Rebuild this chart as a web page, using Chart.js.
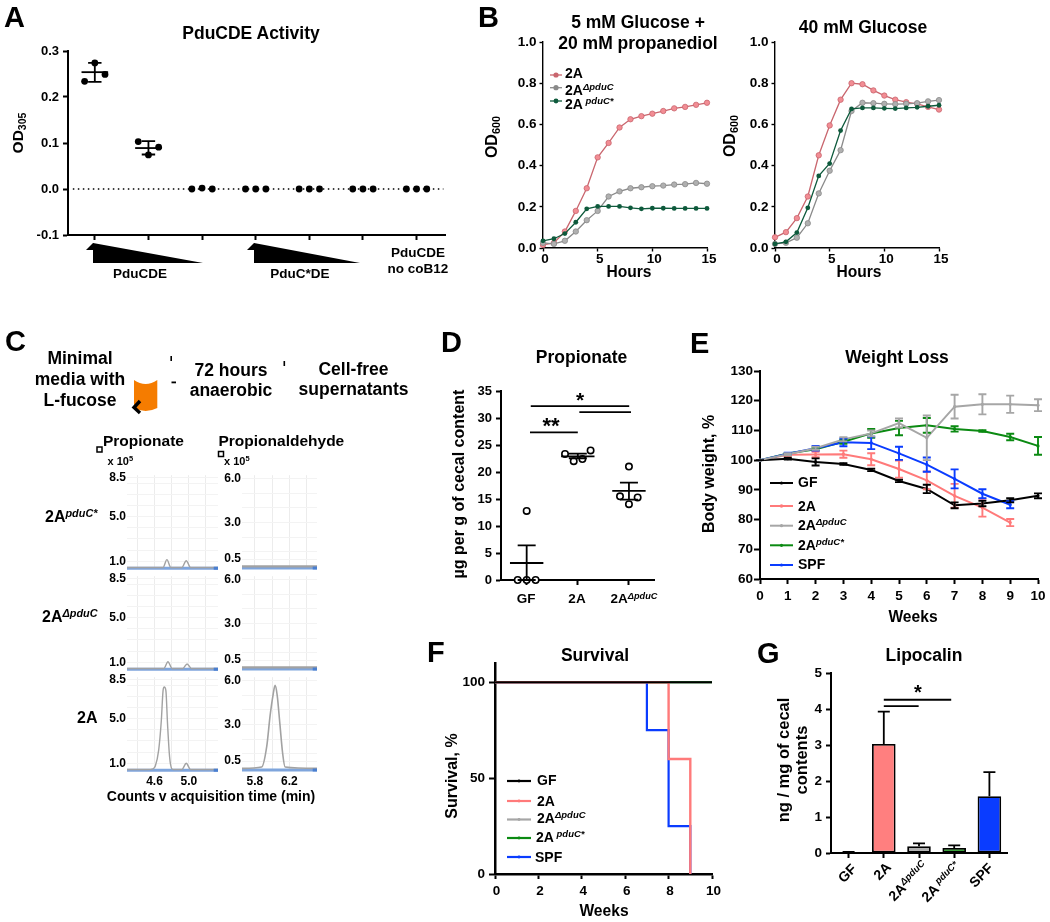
<!DOCTYPE html>
<html lang="en">
<head>
<meta charset="UTF-8">
<title>Propionate figure</title>
<script src="https://cdn.jsdelivr.net/npm/chart.js"></script>
<style>
    html, body { margin: 0; background: #fff; }
    #page { position: relative; width: 1050px; height: 922px; overflow: hidden; font-family: "Liberation Sans", Arial, sans-serif; font-weight: bold; color: #000; }
    #page canvas { position: absolute; }
    #page svg { position: absolute; left: 0; top: 0; }
    .t { position: absolute; white-space: nowrap; line-height: 1; }
    .t sup { font-size: .68em; font-style: italic; vertical-align: .5em; line-height: 0; }
    .t sub { font-size: .68em; vertical-align: -.25em; line-height: 0; }
</style>
</head>
<body>
<div id="page"></div>
<script>
    // A - PduCDE activity (x = group position incl. jitter)
    const aPointsX = [0.81, 1, 1.19, 1.81, 2, 2.19, 2.81, 3, 3.19, 3.81, 4, 4.19, 4.81, 5, 5.19, 5.81, 6, 6.19, 6.81, 7, 7.19];
    const aPointsY = [0.234, 0.274, 0.249, 0.103, 0.074, 0.091, 0, 0.002, 0, 0, 0, 0, 0, 0, 0, 0, 0, 0, 0, 0, 0];
    const aGroups = [1, 2];
    const aMeans = [0.254, 0.089];
    const aLow = [0.233, 0.075];
    const aHigh = [0.274, 0.104];
    const aTicksY = [-0.1, 0, 0.1, 0.2, 0.3];
    const aTicksX = [1, 2, 3, 4, 5, 6, 7];

    // B - growth curves
    const hours = [0, 1, 2, 3, 4, 5, 6, 7, 8, 9, 10, 11, 12, 13, 14, 15];
    const bTicksX = [0, 5, 10, 15];
    const bTicksY = [0, 0.2, 0.4, 0.6, 0.8, 1.0];
    const b1_2A = [0.015, 0.025, 0.08, 0.18, 0.29, 0.44, 0.51, 0.585, 0.625, 0.64, 0.652, 0.665, 0.678, 0.685, 0.695, 0.705];
    const b1_del = [0.025, 0.02, 0.035, 0.08, 0.135, 0.18, 0.25, 0.275, 0.29, 0.295, 0.3, 0.303, 0.308, 0.31, 0.316, 0.312];
    const b1_star = [0.035, 0.045, 0.07, 0.125, 0.19, 0.202, 0.202, 0.202, 0.195, 0.19, 0.193, 0.193, 0.192, 0.192, 0.192, 0.192];
    const b2_2A = [0.052, 0.077, 0.145, 0.25, 0.45, 0.595, 0.72, 0.8, 0.795, 0.765, 0.74, 0.72, 0.708, 0.7, 0.685, 0.672];
    const b2_del = [0.02, 0.025, 0.05, 0.12, 0.265, 0.375, 0.475, 0.665, 0.705, 0.703, 0.7, 0.698, 0.7, 0.703, 0.712, 0.718];
    const b2_star = [0.02, 0.03, 0.075, 0.195, 0.35, 0.41, 0.57, 0.675, 0.68, 0.68, 0.678, 0.677, 0.68, 0.683, 0.688, 0.693];

    // C - chromatograms
    const cTimeA = [4.4, 4.6, 4.8, 5.0, 5.2];
    const cTimeB = [5.8, 6.0, 6.2, 6.4];
    const cCountsA = [1, 2, 3, 4, 5, 6, 7, 8, 8.5];
    const cCountsB = [0.5, 1, 2, 3, 4, 5, 6];
    const cPropStarX = [4.28, 4.7, 4.745, 4.79, 4.92, 4.97, 5.02, 5.34];
    const cPropStarY = [0.45, 0.45, 1.15, 0.45, 0.45, 1.05, 0.45, 0.45];
    const cPropDelX = [4.28, 4.71, 4.757, 4.805, 4.93, 4.98, 5.03, 5.34];
    const cPropDelY = [0.45, 0.45, 1.05, 0.45, 0.45, 0.85, 0.45, 0.45];
    const cProp2AX = [4.28, 4.513, 4.583, 4.61, 4.649, 4.68, 4.7, 4.714, 4.733, 4.752, 4.776, 4.803, 4.822, 4.92, 4.97, 5.02, 5.34];
    const cProp2AY = [0.45, 0.45, 0.5, 0.75, 2.18, 4.85, 7.5, 7.82, 7.5, 4.55, 1.59, 0.5, 0.45, 0.45, 1.0, 0.45, 0.45];
    const cAldFlatX = [5.65, 6.52];
    const cAldFlatY = [0, 0];
    const cAld2AX = [5.65, 5.879, 5.937, 5.976, 6.01, 6.034, 6.058, 6.09, 6.12, 6.15, 6.52];
    const cAld2AY = [0, 0.1, 1.5, 3.6, 5.0, 5.66, 5.0, 3.0, 1.1, 0.1, 0];

    // D - propionate
    const dPointsX = [0.825, 1, 1.175, 1, 1.75, 1.92, 2.09, 2.25, 2.825, 3, 3, 3.17];
    const dPointsY = [0, 0, 0, 12.8, 23.35, 22, 22.4, 24, 15.5, 21, 14.05, 15.3];
    const dGroups = [1, 2, 3];
    const dMeans = [3.15, 22.9, 16.5];
    const dLow = [0, 22.55, 14.9];
    const dHigh = [6.4, 23.4, 18.05];
    const dTicksY = [0, 5, 10, 15, 20, 25, 30, 35];

    // E - weight loss
    const weeks = [0, 1, 2, 3, 4, 5, 6, 7, 8, 9, 10];
    const eGF = [100, 100.5, 99.4, 98.7, 96.7, 93, 90.3, 84.8, 85.4, 86.5, 88];
    const eGFerr = [0, 0.3, 1.2, 0.3, 0.4, 0.4, 1.4, 1.0, 0.9, 0.7, 0.8];
    const e2A = [100, 101.8, 101.9, 102, 100.3, 97, 93.2, 88, 84, 79];
    const e2Aerr = [0, 0.3, 0.9, 1.2, 2, 2.9, 3, 4, 3, 1.2];
    const eDel = [100, 102, 104, 107, 109, 112.5, 107.5, 118, 118.8, 118.8, 118.5];
    const eDelErr = [0, 0.3, 0.5, 0.7, 1, 1.5, 7.5, 4, 3.4, 2.9, 2];
    const eStar = [100, 102.2, 103.7, 106.2, 109, 110.8, 111.7, 110.5, 109.8, 107.8, 104.8];
    const eStarErr = [0, 0.2, 0.5, 0.7, 1.5, 2.4, 2.5, 0.9, 0.3, 1.1, 3];
    const eSPF = [100, 102.2, 104, 106, 105.8, 102.3, 98.5, 93.7, 88.7, 85];
    const eSPFerr = [0, 0.3, 0.8, 1.3, 2.1, 2.2, 2.4, 3.2, 1.5, 1.2];
    const eTicksY = [60, 70, 80, 90, 100, 110, 120, 130];

    // F - survival
    const fGFx = [0, 10], fGFy = [100, 100];
    const f2Ax = [0, 8, 9], f2Ay = [100, 60, 0];
    const fDelX = [0, 10], fDelY = [100, 100];
    const fStarX = [0, 10], fStarY = [100, 100];
    const fSPFx = [0, 7, 8, 9], fSPFy = [100, 75, 25, 0];
    const fTicksX = [0, 2, 4, 6, 8, 10];
    const fTicksY = [0, 50, 100];

    // G - lipocalin
    const gGroups = ['GF', '2A', '2A\u0394pduC', '2A pduC*', 'SPF'];
    const gValues = [0.03, 3.03, 0.19, 0.14, 1.58];
    const gHigh = [0.03, 3.93, 0.27, 0.21, 2.25];
    const gTicksY = [0, 1, 2, 3, 4, 5];

    const FONT = '"Liberation Sans", Arial, sans-serif';
    const BLACK = '#000', RED = '#ff7a7a', GREY = '#a6a6a6', GREEN = '#0b8a12', BLUE = '#0a3cff';
    const page = document.getElementById('page');

    function zip(xs, ys) { return ys.map((y, i) => ({ x: xs[i], y })); }

    // extra marks drawn through the chart's own scales: error bars, mean lines, significance lines
    function marksPlugin(items) {
        return {
            id: 'marks',
            afterDatasetsDraw(chart) {
                const c = chart.ctx, sx = chart.scales.x, sy = chart.scales.y;
                c.save();
                for (const m of items) {
                    c.strokeStyle = m.c || BLACK;
                    c.lineWidth = m.w || 1.8;
                    c.beginPath();
                    if (m.lo !== undefined) {
                        const px = sx.getPixelForValue(m.x), lo = sy.getPixelForValue(m.lo), hi = sy.getPixelForValue(m.hi);
                        c.moveTo(px, lo); c.lineTo(px, hi);
                        c.moveTo(px - m.cap, hi); c.lineTo(px + m.cap, hi);
                        if (!m.top) { c.moveTo(px - m.cap, lo); c.lineTo(px + m.cap, lo); }
                    } else if (m.half !== undefined) {
                        const px = sx.getPixelForValue(m.x), py = sy.getPixelForValue(m.y);
                        c.moveTo(px - m.half, py); c.lineTo(px + m.half, py);
                    } else {
                        c.moveTo(sx.getPixelForValue(m.x1), sy.getPixelForValue(m.y1));
                        c.lineTo(sx.getPixelForValue(m.x2), sy.getPixelForValue(m.y2));
                    }
                    c.stroke();
                }
                c.restore();
            }
        };
    }

    function axis(o) {
        return {
            type: 'linear', min: o.min, max: o.max, bounds: 'data',
            afterBuildTicks: s => { s.ticks = o.ticks.map(v => ({ value: v })); },
            ticks: {
                display: o.labels !== false, autoSkip: false, maxRotation: 0, minRotation: 0,
                padding: o.pad === undefined ? 2 : o.pad, labelOffset: o.shift || 0, color: BLACK,
                font: { family: FONT, weight: 'bold', size: o.size || 13 },
                callback: o.fmt || (v => v)
            },
            border: { display: o.bw !== 0, color: BLACK, width: o.bw === undefined ? 2 : o.bw },
            grid: Object.assign({ drawOnChartArea: false, tickLength: o.tl === undefined ? 5 : o.tl, tickWidth: o.tw || 2, tickColor: BLACK }, o.grid || {})
        };
    }

    // l,t,r,b = plot area in page pixels
    function plot(l, t, r, b, type, datasets, x, y, marks, labels, margin) {
        const m = Object.assign({ l: 62, r: 20, t: 12, b: 36 }, margin || {});
        const cv = document.createElement('canvas');
        cv.width = r - l + m.l + m.r;
        cv.height = b - t + m.t + m.b;
        cv.style.left = (l - m.l) + 'px';
        cv.style.top = (t - m.t) + 'px';
        page.appendChild(cv);
        x.afterFit = s => { s.height = m.b; };
        y.afterFit = s => { s.width = m.l; };
        return new Chart(cv, {
            type,
            data: { labels, datasets },
            options: {
                responsive: false, animation: false, events: [],
                layout: { padding: { left: 0, right: m.r, top: m.t, bottom: 0 } },
                plugins: { legend: { display: false }, tooltip: { enabled: false } },
                scales: { x, y }
            },
            plugins: [marksPlugin(marks || [])]
        });
    }

    function txt(x, y, html, o) {
        o = o || {};
        const d = document.createElement('div');
        d.className = 't';
        d.innerHTML = html;
        d.style.left = x + 'px';
        d.style.top = y + 'px';
        d.style.fontSize = (o.size || 17.5) + 'px';
        if (o.weight) d.style.fontWeight = o.weight;
        d.style.transform = (o.left ? 'translate(0,-50%)' : 'translate(-50%,-50%)') + (o.rot ? ' rotate(' + o.rot + 'deg)' : '');
        page.appendChild(d);
    }

    function line(xs, ys, color, width, r, extra) {
        return Object.assign({
            data: zip(xs, ys), borderColor: color, borderWidth: width, backgroundColor: color,
            pointRadius: r, pointBorderWidth: 0, tension: 0, clip: false
        }, extra || {});
    }

    const fixed1 = v => Number(v).toFixed(1);

    // ---------- A
    const aMarks = [];
    aGroups.forEach((g, i) => {
        aMarks.push({ x: g, lo: aLow[i], hi: aHigh[i], cap: 6.7 });
        aMarks.push({ x: g, y: aMeans[i], half: 13.3 });
    });
    plot(68, 51, 445, 235, 'line', [
        line(aPointsX, aPointsY, BLACK, 0, 3.4, { showLine: false }),
        { data: [{ x: 0.59, y: 0 }, { x: 7.5, y: 0 }], borderColor: BLACK, borderWidth: 1.5, borderDash: [1.5, 3.5], pointRadius: 0 }
    ],
        axis({ min: 0.5, max: 7.53, ticks: aTicksX, labels: false, tl: 5 }),
        axis({ min: -0.1, max: 0.3, ticks: aTicksY, fmt: fixed1, tl: 5, pad: 4 }),
        aMarks);

    // ---------- B
    const PINK_L = '#c9666e', PINK_M = '#f28d94', GR_L = '#8a8a8a', GR_M = '#b0b0b0', DG = '#0e5a3c';
    function growth(l, r, pink, grey, green) {
        plot(l, 42, r, 248, 'line', [
            line(hours, green, DG, 1.3, 2.4),
            line(hours, grey, GR_L, 1.3, 2.7, { pointBackgroundColor: GR_M, pointBorderColor: GR_L, pointBorderWidth: 0.8 }),
            line(hours, pink, PINK_L, 1.3, 2.7, { pointBackgroundColor: PINK_M, pointBorderColor: PINK_L, pointBorderWidth: 0.8 })
        ],
            axis({ min: 0, max: 15, ticks: bTicksX, bw: 1.4, tw: 1.4, tl: 3.5, size: 13.5, pad: 0, shift: 2 }),
            axis({ min: 0, max: 1, ticks: bTicksY, fmt: fixed1, bw: 1.4, tw: 1.4, tl: 3.5, size: 13.5, pad: 3 }));
    }
    growth(543, 707, b1_2A, b1_del, b1_star);
    growth(775, 939, b2_2A, b2_del, b2_star);

    // ---------- C
    const G_V = '#ececec', G_H = '#f3f3f3', TRACE = '#a2a2a2', BASE = '#7fa5dc', BASE_D = '#4a7fd0';
    function chrom(l, t, r, b, times, counts, minX, maxX, minY, maxY, named, xs, ys, showX, base, traceW) {
        plot(l, t, r, b, 'line', [
            line([maxX - 0.05, maxX], [base, base], BASE_D, 3, 0),
            line(xs, ys, TRACE, traceW, 0, { cubicInterpolationMode: 'monotone' }),
            line([minX, maxX], [base, base], BASE, 3, 0)
        ],
            axis({ min: minX, max: maxX, ticks: times, bw: 0, tl: 0, size: 12, pad: 4, fmt: v => (showX.includes(+Number(v).toFixed(1)) ? Number(v).toFixed(1) : ''), grid: { drawOnChartArea: true, color: G_V, lineWidth: 1, drawTicks: false } }),
            axis({ min: minY, max: maxY, ticks: counts, bw: 0, tl: 0, size: 12, pad: 1, fmt: v => (named.includes(v) ? fixed1(v) : ''), grid: { drawOnChartArea: true, color: G_H, lineWidth: 1, drawTicks: false } }),
            [], undefined, { l: 30, r: 4, t: 8, b: 20 });
    }
    const rowsT = [475, 576, 677], rowsB = [568, 669, 770];
    const namedA = [1, 5, 8.5], namedB = [0.5, 3, 6];
    chrom(127, rowsT[0], 218, rowsB[0], cTimeA, cCountsA, 4.28, 5.34, 0.4, 8.7, namedA, cPropStarX, cPropStarY, [], 0.38, 1.4);
    chrom(127, rowsT[1], 218, rowsB[1], cTimeA, cCountsA, 4.28, 5.34, 0.4, 8.7, namedA, cPropDelX, cPropDelY, [], 0.38, 1.4);
    chrom(127, rowsT[2], 218, rowsB[2], cTimeA, cCountsA, 4.28, 5.34, 0.4, 8.7, namedA, cProp2AX, cProp2AY, [4.6, 5.0], 0.38, 1.4);
    chrom(242, rowsT[0], 317, rowsB[0], cTimeB, cCountsB, 5.65, 6.52, -0.11, 6.22, namedB, cAldFlatX, cAldFlatY, [], -0.11, 2.2);
    chrom(242, rowsT[1], 317, rowsB[1], cTimeB, cCountsB, 5.65, 6.52, -0.11, 6.22, namedB, cAldFlatX, cAldFlatY, [], -0.11, 2.2);
    chrom(242, rowsT[2], 317, rowsB[2], cTimeB, cCountsB, 5.65, 6.52, -0.11, 6.22, namedB, cAld2AX, cAld2AY, [5.8, 6.2], -0.11, 1.6);

    // ---------- D
    const dMarks = [
        { x1: 1.08, y1: 32.2, x2: 3.005, y2: 32.2 },
        { x1: 2.03, y1: 31.1, x2: 3.04, y2: 31.1 },
        { x1: 1.065, y1: 27.35, x2: 2, y2: 27.35 }
    ];
    dGroups.forEach((g, i) => {
        dMarks.push({ x: g, lo: dLow[i], hi: dHigh[i], cap: 9 });
        dMarks.push({ x: g, y: dMeans[i], half: 16.7 });
    });
    plot(501, 391, 654, 580, 'line', [
        line(dPointsX, dPointsY, BLACK, 0, 3.2, { showLine: false, pointBackgroundColor: '#fff', pointBorderColor: BLACK, pointBorderWidth: 1.6 })
    ],
        axis({ min: 0.498, max: 3.49, ticks: dGroups, labels: false, tl: 5 }),
        axis({ min: 0, max: 35, ticks: dTicksY, tl: 5, size: 13, pad: 4 }),
        dMarks);

    // ---------- E
    function errs(values, err, color) {
        return values.map((v, i) => ({ x: weeks[i], lo: v - err[i], hi: v + err[i], cap: 4, c: color, w: 1.9 }));
    }
    plot(760, 371, 1038, 579, 'line', [
        line(weeks, eDel, GREY, 2, 1.6),
        line(weeks, eGF, BLACK, 2, 1.6),
        line(weeks, eSPF, BLUE, 2, 1.6),
        line(weeks, eStar, GREEN, 2, 1.6),
        line(weeks, e2A, RED, 2, 1.6)
    ],
        axis({ min: 0, max: 10, ticks: weeks, tl: 5, size: 13.5, pad: 4 }),
        axis({ min: 60, max: 130, ticks: eTicksY, tl: 6, size: 13.5, pad: 1 }),
        [].concat(errs(eStar, eStarErr, GREEN), errs(e2A, e2Aerr, RED), errs(eSPF, eSPFerr, BLUE), errs(eDel, eDelErr, GREY), errs(eGF, eGFerr, BLACK)));

    // ---------- F
    plot(495, 663, 712, 874, 'line', [
        line(fGFx, fGFy, BLACK, 2.2, 0),
        line(f2Ax, f2Ay, RED, 2.4, 0, { stepped: 'before' }),
        line(fSPFx, fSPFy, BLUE, 2.2, 0, { stepped: 'before' }),
        line(fStarX, fStarY, GREEN, 2.2, 0),
        line(fDelX, fDelY, GREY, 2.2, 0)
    ],
        axis({ min: 0, max: 10, ticks: fTicksX, tl: 5, size: 13.5, bw: 2.5, pad: 4, shift: 1.5 }),
        axis({ min: 0, max: 110, ticks: fTicksY, tl: 6, size: 13.5, bw: 2.5, pad: 4 }));

    // ---------- G
    plot(831, 673, 1007, 853, 'bar', [{
        data: gValues,
        backgroundColor: ['#bdbdbd', '#ff7f7f', '#b0b0b0', '#0f9a0f', '#0a3cff'],
        borderColor: BLACK, borderWidth: 1.8, borderSkipped: false, barPercentage: 0.67, categoryPercentage: 1
    }],
        {
            type: 'category', offset: true,
            ticks: { display: false },
            border: { color: BLACK, width: 2 },
            grid: { offset: false, drawOnChartArea: false, tickLength: 5, tickWidth: 2, tickColor: BLACK }
        },
        axis({ min: 0, max: 5, ticks: gTicksY, tl: 5, size: 13.5, pad: 4 }),
        [
            { x1: 1, y1: 4.26, x2: 2.915, y2: 4.26 },
            { x1: 1, y1: 4.08, x2: 1.99, y2: 4.08 }
        ].concat(gValues.map((v, i) => ({ x: i, lo: v, hi: gHigh[i], cap: 6, top: true }))),
        gGroups);

    // ---------- shapes and legend samples
    function legendLine(x1, x2, y, color, w, r) {
        const mid = (x1 + x2) / 2;
        return '<line x1="' + x1 + '" x2="' + x2 + '" y1="' + y + '" y2="' + y + '" stroke="' + color + '" stroke-width="' + w + '"/>' +
            '<circle cx="' + mid + '" cy="' + y + '" r="' + r + '" fill="' + color + '"/>';
    }
    let svg = '<svg width="1050" height="922" xmlns="http://www.w3.org/2000/svg">';
    // wedges in A
    svg += '<polygon points="93,263 203,263 93,243"/><polygon points="86,250 93,243 99,250"/>';
    svg += '<polygon points="254,263 360,263 254,243"/><polygon points="247,250 254,243 260,250"/>';
    // tube and arrows in C
    svg += '<path d="M134,380 Q145.6,388 157.3,380 L157.3,408 Q145.6,414 134,408 Z" fill="#f57c00"/>';
    svg += '<polyline points="140,401 134,407.5 140,413" fill="none" stroke="#000" stroke-width="3.4"/>';
    svg += '<rect x="170.4" y="356" width="1.6" height="5"/><rect x="171.5" y="381.5" width="4.5" height="1.8"/><rect x="283.5" y="361" width="1.6" height="5"/>';
    svg += '<rect x="97" y="447" width="5" height="5" fill="none" stroke="#000" stroke-width="1.5"/><rect x="218.5" y="451.5" width="5" height="5" fill="none" stroke="#000" stroke-width="1.5"/>';
    // legend B
    svg += legendLine(550, 562, 75, PINK_L, 1.3, 2.6) + legendLine(550, 562, 87.7, GR_L, 1.3, 2.6) + legendLine(550, 562, 101, DG, 1.3, 2.4);
    // legend E
    svg += legendLine(770, 793, 483, BLACK, 2, 1.6) + legendLine(770, 793, 506, RED, 2, 1.8) + legendLine(770, 793, 525.7, GREY, 2, 1.6) + legendLine(770, 793, 545.3, GREEN, 2, 1.6) + legendLine(770, 793, 565, BLUE, 2, 1.6);
    // legend F
    svg += legendLine(507, 531, 781, BLACK, 2.2, 1.4) + legendLine(507, 531, 801, RED, 2.2, 1.4) + legendLine(507, 531, 819.5, GREY, 2.2, 1.4) + legendLine(507, 531, 838, GREEN, 2.2, 1.4) + legendLine(507, 531, 857, BLUE, 2.2, 1.4);
    svg += '</svg>';
    page.insertAdjacentHTML('beforeend', svg);

    // ---------- text
    [['A', 4, 17], ['B', 478, 17], ['C', 5, 341], ['D', 441, 342], ['E', 690, 343], ['F', 427, 652], ['G', 757, 653]]
        .forEach(p => txt(p[1], p[2], p[0], { size: 29, left: true }));

    txt(251, 34, 'PduCDE Activity');
    txt(18, 133, 'OD<sub>305</sub>', { size: 15.5, rot: -90 });
    txt(140, 274, 'PduCDE', { size: 13.5 });
    txt(300, 274, 'PduC*DE', { size: 13.5 });
    txt(418, 253, 'PduCDE', { size: 13.5 });
    txt(418, 269, 'no coB12', { size: 13.5 });

    txt(638, 23, '5 mM Glucose +');
    txt(638, 43.5, '20 mM propanediol');
    txt(863, 28, '40 mM Glucose');
    txt(492, 137, 'OD<sub>600</sub>', { size: 16, rot: -90 });
    txt(730, 136, 'OD<sub>600</sub>', { size: 16, rot: -90 });
    txt(629, 272, 'Hours', { size: 15.6 });
    txt(859, 272, 'Hours', { size: 15.6 });
    txt(565, 72.5, '2A', { size: 14, left: true });
    txt(565, 89.5, '2A<sup>\u0394pduC</sup>', { size: 14, left: true });
    txt(565, 103.5, '2A<sup> pduC*</sup>', { size: 14, left: true });

    txt(80, 359, 'Minimal');
    txt(80, 379.5, 'media with');
    txt(80, 400.5, 'L-fucose');
    txt(231, 371, '72 hours');
    txt(231, 390.5, 'anaerobic');
    txt(353.5, 369.5, 'Cell-free');
    txt(353.5, 389.5, 'supernatants');
    txt(103, 441, 'Propionate', { size: 15.5, left: true });
    txt(218.5, 441, 'Propionaldehyde', { size: 15.5, left: true });
    txt(107.5, 461, 'x 10<sup style="font-style:normal">5</sup>', { size: 11, left: true });
    txt(224, 461, 'x 10<sup style="font-style:normal">5</sup>', { size: 11, left: true });
    txt(45, 517, '2A<sup>pduC*</sup>', { size: 16, left: true });
    txt(42, 617, '2A<sup>\u0394pduC</sup>', { size: 16, left: true });
    txt(77, 718, '2A', { size: 16, left: true });
    txt(211, 796, 'Counts v acquisition time (min)', { size: 14 });

    txt(581.5, 358, 'Propionate');
    txt(459, 484, '\u00b5g per g of cecal content', { size: 16, rot: -90 });
    txt(526, 599, 'GF', { size: 13.5 });
    txt(577, 599, '2A', { size: 13.5 });
    txt(634, 599, '2A<sup>\u0394pduC</sup>', { size: 13.5 });
    txt(580, 399, '*', { size: 21 });
    txt(551, 426, '**', { size: 22 });

    txt(897, 358, 'Weight Loss');
    txt(709, 474, 'Body weight, %', { size: 16, rot: -90 });
    txt(913, 617, 'Weeks', { size: 15.6 });
    txt(798, 482, 'GF', { size: 14, left: true });
    txt(798, 506, '2A', { size: 14, left: true });
    txt(798, 525, '2A<sup>\u0394pduC</sup>', { size: 14, left: true });
    txt(798, 545, '2A<sup>pduC*</sup>', { size: 14, left: true });
    txt(798, 564, 'SPF', { size: 14, left: true });

    txt(595, 656, 'Survival');
    txt(452, 776, 'Survival, %', { size: 16, rot: -90 });
    txt(604, 911, 'Weeks', { size: 15.6 });
    txt(537, 780, 'GF', { size: 14, left: true });
    txt(537, 801, '2A', { size: 14, left: true });
    txt(537, 818, '2A<sup>\u0394pduC</sup>', { size: 14, left: true });
    txt(536, 837, '2A<sup> pduC*</sup>', { size: 14, left: true });
    txt(535, 857, 'SPF', { size: 14, left: true });

    txt(924, 656, 'Lipocalin');
    txt(783, 760, 'ng / mg of cecal', { size: 16.5, rot: -90 });
    txt(801, 760, 'contents', { size: 16.5, rot: -90 });
    txt(847, 873, 'GF', { size: 14, rot: -45 });
    txt(882, 871, '2A', { size: 14, rot: -45 });
    txt(908, 881, '2A<sup>\u0394pduC</sup>', { size: 14, rot: -45 });
    txt(941, 882, '2A<sup> pduC*</sup>', { size: 14, rot: -45 });
    txt(981, 875, 'SPF', { size: 14, rot: -45 });
    txt(918, 692, '*', { size: 20 });
</script>
</body>
</html>
